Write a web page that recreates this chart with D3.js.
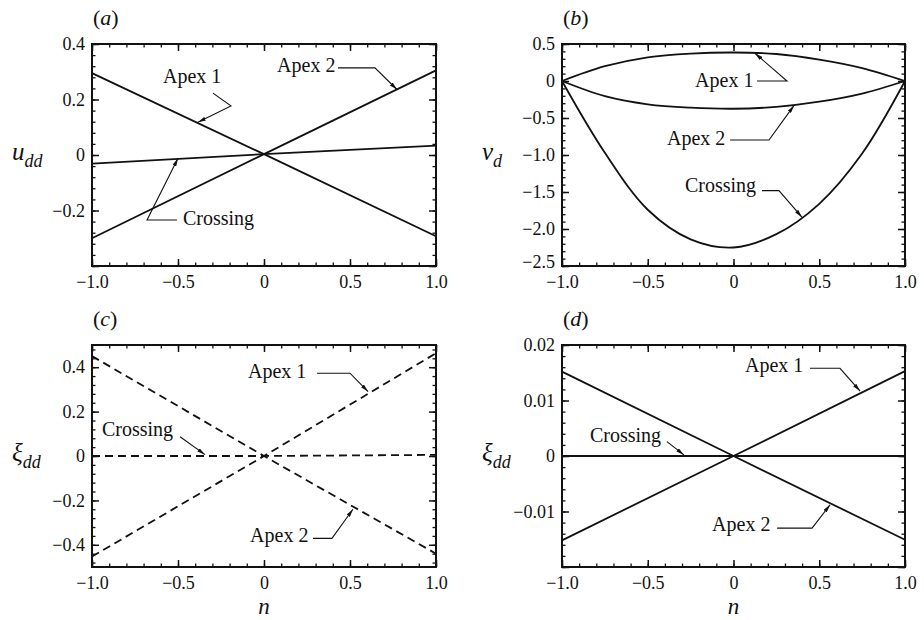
<!DOCTYPE html>
<html>
<head>
<meta charset="utf-8">
<script src="https://cdn.jsdelivr.net/npm/d3@7"></script>
<style>
  body { margin: 0; background: #fff; }
  svg { display: block; }
  svg text { font-family: "Liberation Serif", "DejaVu Serif", serif; fill: #111; }
</style>
</head>
<body>
<script>
// n values where the curves were read
const nLin = [-1, 0, 1]
const nCurve = [-1, -0.75, -0.5, -0.25, 0, 0.25, 0.5, 0.75, 1]

// (a) u_dd
const uddApex1 = [0.295, 0.003, -0.293]
const uddApex2 = [-0.300, 0.003, 0.305]
const uddCrossing = [-0.031, 0.003, 0.034]

// (b) v_d
const vdApex1 = [0, 0.2, 0.32, 0.37, 0.385, 0.365, 0.29, 0.175, 0]
const vdApex2 = [0, -0.205, -0.315, -0.36, -0.375, -0.35, -0.28, -0.17, 0]
const vdCrossing = [0, -0.97, -1.74, -2.14, -2.25, -2.07, -1.66, -0.98, 0]

// (c) xi_dd (dashed)
const xiApex1 = [-0.453, 0, 0.463]
const xiApex2 = [0.45, 0, -0.44]
const xiCrossing = [0, 0, 0.005]

// (d) xi_dd
const xi2Apex1 = [-0.0152, 0, 0.0153]
const xi2Apex2 = [0.0152, 0, -0.0151]
const xi2Crossing = [0, 0, 0]

// tick labels
const xTicks = [-1, -0.5, 0, 0.5, 1]
const uddTicks = [-0.2, 0, 0.2, 0.4]
const vdTicks = [-2.5, -2, -1.5, -1, -0.5, 0, 0.5]
const xiTicks = [-0.4, -0.2, 0, 0.2, 0.4]
const xi2Ticks = [-0.01, 0, 0.01, 0.02]

const W = 924, H = 620
const FONT = '"Liberation Serif", "DejaVu Serif", serif'
const cols = [{left: 92, right: 436}, {left: 562, right: 905}]
const rows = [{top: 44, bottom: 266}, {top: 345, bottom: 567}]

const svg = d3.select("body").append("svg")
  .attr("width", W)
  .attr("height", H)
  .attr("font-family", FONT)

svg.append("defs").append("marker")
  .attr("id", "arrow")
  .attr("markerUnits", "userSpaceOnUse")
  .attr("viewBox", "0 0 8 4")
  .attr("refX", 8)
  .attr("refY", 2)
  .attr("markerWidth", 8)
  .attr("markerHeight", 4)
  .attr("orient", "auto")
  .append("path")
  .attr("d", "M0,0 L8,2 L0,4 Z")
  .attr("fill", "#111")

const fmt = dec => v => v === 0 ? "0" : d3.format("." + dec + "f")(v).replace("-", "\u2212")

const panels = [
  {
    tag: "a", col: 0, row: 0, yDomain: [-0.4, 0.4], yTicks: uddTicks, yMajor: 0.2, dec: 1,
    yName: "u", ySub: "dd", n: nLin, dashed: false,
    series: [uddApex1, uddApex2, uddCrossing],
    notes: [
      {text: "Apex 1", at: [-0.587, 0.259], path: [[-0.297, 0.223], [-0.192, 0.177], [-0.384, 0.118]]},
      {text: "Apex 2", at: [0.076, 0.299], path: [[0.43, 0.314], [0.645, 0.314], [0.773, 0.236]]},
      {text: "Crossing", at: [-0.471, -0.252], path: [[-0.506, -0.234], [-0.68, -0.234], [-0.5, -0.012]]}
    ]
  },
  {
    tag: "b", col: 1, row: 0, yDomain: [-2.5, 0.5], yTicks: vdTicks, yMajor: 0.5, dec: 1,
    yName: "v", ySub: "d", n: nCurve, dashed: false, curve: d3.curveCatmullRom,
    series: [vdApex1, vdApex2, vdCrossing],
    notes: [
      {text: "Apex 1", at: [-0.224, -0.081], path: [[0.137, 0], [0.312, 0], [0.125, 0.375]]},
      {text: "Apex 2", at: [-0.388, -0.865], path: [[-0.02, -0.797], [0.207, -0.797], [0.353, -0.33]]},
      {text: "Crossing", at: [-0.283, -1.5], path: [[0.166, -1.482], [0.265, -1.482], [0.399, -1.84]]}
    ]
  },
  {
    tag: "c", col: 0, row: 1, yDomain: [-0.5, 0.5], yTicks: xiTicks, yMajor: 0.2, dec: 1,
    yName: "\u03BE", ySub: "dd", n: nLin, dashed: true, xName: "n",
    series: [xiApex1, xiApex2, xiCrossing],
    notes: [
      {text: "Apex 1", at: [-0.093, 0.351], path: [[0.308, 0.373], [0.5, 0.373], [0.605, 0.29]]},
      {text: "Crossing", at: [-0.942, 0.09], path: [[-0.488, 0.087], [-0.343, 0.006]]},
      {text: "Apex 2", at: [-0.081, -0.386], path: [[0.285, -0.371], [0.395, -0.371], [0.517, -0.24]]}
    ]
  },
  {
    tag: "d", col: 1, row: 1, yDomain: [-0.02, 0.02], yTicks: xi2Ticks, yMajor: 0.01, dec: 2,
    yName: "\u03BE", ySub: "dd", n: nLin, dashed: false, xName: "n",
    series: [xi2Apex1, xi2Apex2, xi2Crossing],
    notes: [
      {text: "Apex 1", at: [0.067, 0.0152], path: [[0.446, 0.0158], [0.621, 0.0158], [0.738, 0.0117]]},
      {text: "Crossing", at: [-0.837, 0.0026], path: [[-0.388, 0.0026], [-0.289, 0.0002]]},
      {text: "Apex 2", at: [-0.125, -0.0136], path: [[0.254, -0.013], [0.458, -0.013], [0.563, -0.0088]]}
    ]
  }
]

// tick values from step, kept inside the domain
const stepTicks = (domain, step) => {
  const out = []
  for (let i = Math.ceil(domain[0] / step - 1e-6); i * step <= domain[1] + 1e-9; i++) {
    out.push(+(i * step).toFixed(6))
  }
  return out
}

panels.forEach(p => {
  const {left, right} = cols[p.col]
  const {top, bottom} = rows[p.row]

  const xScale = d3.scaleLinear().domain([-1, 1]).range([left, right])
  const yScale = d3.scaleLinear().domain(p.yDomain).range([bottom, top])

  const g = svg.append("g")

  const xMinor = stepTicks([-1, 1], 0.1)
  const yMinor = stepTicks(p.yDomain, p.yMajor / 5)
  const yMajorAll = stepTicks(p.yDomain, p.yMajor)

  // minor ticks, all four sides, pointing in
  const minor = [
    [d3.axisBottom(xScale).tickValues(xMinor), "translate(0," + bottom + ")"],
    [d3.axisTop(xScale).tickValues(xMinor), "translate(0," + top + ")"],
    [d3.axisLeft(yScale).tickValues(yMinor), "translate(" + left + ",0)"],
    [d3.axisRight(yScale).tickValues(yMinor), "translate(" + right + ",0)"]
  ]
  minor.forEach(([ax, tr]) => {
    g.append("g").attr("transform", tr)
      .call(ax.tickSize(-3.5).tickFormat(""))
      .call(s => s.select(".domain").remove())
      .selectAll("line").attr("stroke", "#111").attr("stroke-width", 1.3)
  })

  // major ticks on top and right, no labels
  g.append("g").attr("transform", "translate(0," + top + ")")
    .call(d3.axisTop(xScale).tickValues(xTicks).tickSize(-7).tickFormat(""))
    .call(s => s.select(".domain").remove())
    .selectAll("line").attr("stroke", "#111").attr("stroke-width", 1.5)
  g.append("g").attr("transform", "translate(" + right + ",0)")
    .call(d3.axisRight(yScale).tickValues(yMajorAll).tickSize(-7).tickFormat(""))
    .call(s => s.select(".domain").remove())
    .selectAll("line").attr("stroke", "#111").attr("stroke-width", 1.5)

  // labelled axes
  const xAxis = g.append("g").attr("transform", "translate(0," + bottom + ")")
    .call(d3.axisBottom(xScale).tickValues(xTicks).tickSize(-7).tickPadding(9).tickFormat(fmt(1)))
  xAxis.select(".domain").remove()
  xAxis.selectAll("line").attr("stroke", "#111").attr("stroke-width", 1.5)

  const yAxis = g.append("g").attr("transform", "translate(" + left + ",0)")
    .call(d3.axisLeft(yScale).tickValues(yMajorAll).tickSize(-7).tickPadding(7)
      .tickFormat(v => p.yTicks.some(t => Math.abs(t - v) < 1e-9) ? fmt(p.dec)(v) : ""))
  yAxis.select(".domain").remove()
  yAxis.selectAll("line").attr("stroke", "#111").attr("stroke-width", 1.5)
  // bottom-corner label sits a little higher so it clears the x labels
  yAxis.selectAll(".tick text")
    .filter(d => Math.abs(d - p.yDomain[0]) < 1e-9)
    .attr("y", -4)

  xAxis.attr("font-family", FONT).attr("font-size", 18)
  yAxis.attr("font-family", FONT).attr("font-size", 18)

  // frame
  g.append("rect")
    .attr("x", left).attr("y", top)
    .attr("width", right - left).attr("height", bottom - top)
    .attr("fill", "none").attr("stroke", "#111").attr("stroke-width", 2)

  // curves
  const line = d3.line()
    .x((d, i) => xScale(p.n[i]))
    .y(d => yScale(d))
    .curve(p.curve || d3.curveLinear)

  p.series.forEach(s => {
    g.append("path")
      .datum(s)
      .attr("fill", "none")
      .attr("stroke", "#111")
      .attr("stroke-width", 1.8)
      .attr("stroke-dasharray", p.dashed ? "8,5" : null)
      .attr("d", line)
  })

  // annotations with leader arrows
  p.notes.forEach(a => {
    g.append("text")
      .attr("x", xScale(a.at[0]))
      .attr("y", yScale(a.at[1]))
      .attr("font-size", 20)
      .text(a.text)
    g.append("path")
      .datum(a.path)
      .attr("fill", "none")
      .attr("stroke", "#111")
      .attr("stroke-width", 1.1)
      .attr("marker-end", "url(#arrow)")
      .attr("d", d3.line().x(d => xScale(d[0])).y(d => yScale(d[1])))
  })

  // panel tag
  const tag = g.append("text")
    .attr("x", left + 1).attr("y", top - 19).attr("font-size", 22)
  tag.append("tspan").text("(")
  tag.append("tspan").attr("font-style", "italic").text(p.tag)
  tag.append("tspan").text(")")

  // y name
  const yn = g.append("text")
    .attr("x", left - 80).attr("y", (top + bottom) / 2 + 5)
    .attr("font-size", 25).attr("font-style", "italic")
  yn.append("tspan").text(p.yName)
  yn.append("tspan").attr("font-size", 18).attr("dy", 7).text(p.ySub)

  if (p.xName) {
    g.append("text")
      .attr("x", (left + right) / 2).attr("y", bottom + 47)
      .attr("text-anchor", "middle")
      .attr("font-size", 23).attr("font-style", "italic")
      .text(p.xName)
  }
})
</script>
</body>
</html>
